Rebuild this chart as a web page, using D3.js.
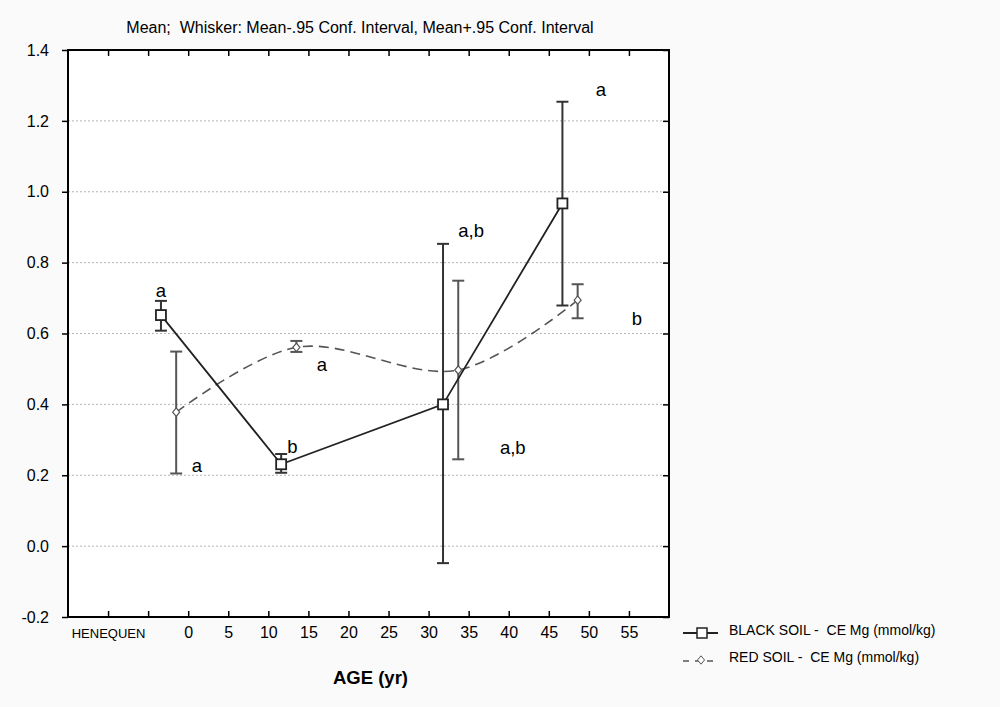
<!DOCTYPE html>
<html>
<head>
<meta charset="utf-8">
<script src="https://cdn.jsdelivr.net/npm/d3@7"></script>
<style>
    body { margin: 0; background: #fafafa; }
    svg { display: block; font-family: "Liberation Sans", Arial, sans-serif; }
    text { white-space: pre; }
    .grid line { stroke: #b4b4b4; stroke-dasharray: 2 2; }
    .axis path { display: none; }
    .axis line { stroke: #000; stroke-width: 1.5; }
</style>
</head>
<body>
<div id="chart"></div>
<script>
// data
const xTicks = [-10, -5, 0, 5, 10, 15, 20, 25, 30, 35, 40, 45, 50, 55];
const xTickLabels = ["HENEQUEN", "", "0", "5", "10", "15", "20", "25", "30", "35", "40", "45", "50", "55"];
const yTicks = [-0.2, 0.0, 0.2, 0.4, 0.6, 0.8, 1.0, 1.2, 1.4];

const blackAge = [-3.4, 11.6, 31.8, 46.7];
const blackMean = [0.652, 0.231, 0.400, 0.967];
const blackLow = [0.608, 0.207, -0.048, 0.679];
const blackHigh = [0.692, 0.260, 0.853, 1.254];

const redAge = [-1.5, 13.5, 33.7, 48.6];
const redMean = [0.378, 0.561, 0.497, 0.694];
const redLow = [0.205, 0.548, 0.245, 0.643];
const redHigh = [0.549, 0.579, 0.749, 0.739];

// significance letters (age, value of text baseline)
const letterText = ["a", "a", "b", "a", "a,b", "a,b", "a", "b"];
const letterAge = [-3.4, 1.1, 13.0, 16.7, 35.3, 40.5, 51.5, 56.0];
const letterValue = [0.703, 0.209, 0.263, 0.494, 0.871, 0.260, 1.270, 0.624];

const title = "Mean;  Whisker: Mean-.95 Conf. Interval, Mean+.95 Conf. Interval";
const xTitle = "AGE (yr)";
const legendLabels = ["BLACK SOIL -  CE Mg (mmol/kg)", "RED SOIL -  CE Mg (mmol/kg)"];

// layout
const width = 1000, height = 707;
const box = {left: 68, right: 669, top: 50, bottom: 617};
const tickLen = 6;
const capHalf = 6;

const svg = d3.select("#chart").append("svg")
    .attr("width", width)
    .attr("height", height);

const x = d3.scaleLinear().domain([-15, 60]).range([box.left, box.right]);
const y = d3.scaleLinear().domain([-0.2, 1.4]).range([box.bottom, box.top]);

svg.append("rect")
    .attr("x", box.left).attr("y", box.top)
    .attr("width", box.right - box.left).attr("height", box.bottom - box.top)
    .attr("fill", "#fff");

svg.append("text")
    .attr("x", 360).attr("y", 33)
    .attr("text-anchor", "middle")
    .attr("font-size", 16)
    .text(title);

// grid
svg.append("g").attr("class", "grid")
    .selectAll("line")
    .data(yTicks.filter(d => d > -0.2 && d < 1.4))
    .join("line")
    .attr("x1", box.left).attr("x2", box.right)
    .attr("y1", d => y(d)).attr("y2", d => y(d));

// axes
svg.append("g").attr("class", "axis")
    .attr("transform", `translate(${box.left},0)`)
    .call(d3.axisLeft(y).tickValues(yTicks).tickSize(tickLen).tickPadding(13).tickFormat(d => d.toFixed(1)))
    .call(g => g.selectAll("text").attr("font-size", 16).attr("fill", "#000").attr("font-family", null));

svg.append("g").attr("class", "axis")
    .attr("transform", `translate(${box.right},0)`)
    .call(d3.axisLeft(y).tickValues(yTicks).tickSize(tickLen).tickFormat(""));

svg.append("g").attr("class", "axis")
    .attr("transform", `translate(0,${box.top})`)
    .call(d3.axisBottom(x).tickValues(xTicks).tickSize(tickLen).tickFormat(""));

svg.append("g").attr("class", "axis")
    .attr("transform", `translate(0,${box.bottom})`)
    .call(d3.axisTop(x).tickValues(xTicks).tickSize(tickLen).tickFormat(""));

svg.append("g").attr("class", "axis")
    .attr("transform", `translate(0,${box.bottom})`)
    .call(d3.axisBottom(x).tickValues(xTicks).tickSize(0).tickPadding(10)
        .tickFormat((d, i) => xTickLabels[i]))
    .call(g => g.selectAll("text")
        .attr("fill", "#000").attr("font-family", null)
        .attr("font-size", (d, i) => i === 0 ? 13 : 16)
        .attr("dy", (d, i) => i === 0 ? "0.85em" : "0.71em"));

svg.append("text")
    .attr("x", x(22.5) + 2).attr("y", 684)
    .attr("text-anchor", "middle")
    .attr("font-size", 18.5).attr("font-weight", "bold")
    .text(xTitle);

// red series (dashed smooth line + whiskers + diamonds)
const redPts = redAge.map((a, i) => [x(a), y(redMean[i])]);
svg.append("path")
    .attr("d", d3.line().curve(d3.curveCatmullRom.alpha(0.5))(redPts))
    .attr("fill", "none").attr("stroke", "#555")
    .attr("stroke-width", 1.6).attr("stroke-dasharray", "10 6");

const whisker = (g, ages, lows, highs, color) => {
    const w = g.append("g").attr("stroke", color).attr("stroke-width", 2);
    w.selectAll(".v").data(ages).join("line")
        .attr("x1", d => x(d)).attr("x2", d => x(d))
        .attr("y1", (d, i) => y(lows[i])).attr("y2", (d, i) => y(highs[i]));
    w.selectAll(".lo").data(ages).join("line")
        .attr("x1", d => x(d) - capHalf).attr("x2", d => x(d) + capHalf)
        .attr("y1", (d, i) => y(lows[i])).attr("y2", (d, i) => y(lows[i]));
    w.selectAll(".hi").data(ages).join("line")
        .attr("x1", d => x(d) - capHalf).attr("x2", d => x(d) + capHalf)
        .attr("y1", (d, i) => y(highs[i])).attr("y2", (d, i) => y(highs[i]));
};

whisker(svg, redAge, redLow, redHigh, "#555");

// small rhombus, a bit taller than wide
const rhombus = {
    draw(ctx) {
        ctx.moveTo(0, -4.2);
        ctx.lineTo(3.5, 0);
        ctx.lineTo(0, 4.2);
        ctx.lineTo(-3.5, 0);
        ctx.closePath();
    }
};
const diamond = d3.symbol().type(rhombus);
svg.append("g").selectAll("path")
    .data(redPts)
    .join("path")
    .attr("transform", d => `translate(${d[0]},${d[1]})`)
    .attr("d", diamond)
    .attr("fill", "#fff").attr("stroke", "#555").attr("stroke-width", 1.2);

// black series
whisker(svg, blackAge, blackLow, blackHigh, "#333");

const blackPts = blackAge.map((a, i) => [x(a), y(blackMean[i])]);
svg.append("path")
    .attr("d", d3.line()(blackPts))
    .attr("fill", "none").attr("stroke", "#222").attr("stroke-width", 1.8);

svg.append("g").selectAll("rect")
    .data(blackPts)
    .join("rect")
    .attr("x", d => d[0] - 5).attr("y", d => d[1] - 5)
    .attr("width", 10).attr("height", 10)
    .attr("fill", "#fff").attr("stroke", "#222").attr("stroke-width", 1.8);

// letters
svg.append("g").selectAll("text")
    .data(letterText)
    .join("text")
    .attr("x", (d, i) => x(letterAge[i]))
    .attr("y", (d, i) => y(letterValue[i]))
    .attr("text-anchor", "middle")
    .attr("font-size", 18.5)
    .text(d => d);

// frame
svg.append("rect")
    .attr("x", box.left).attr("y", box.top)
    .attr("width", box.right - box.left).attr("height", box.bottom - box.top)
    .attr("fill", "none").attr("stroke", "#000").attr("stroke-width", 2);

// legend
const legend = svg.append("g");
legend.append("line")
    .attr("x1", 683).attr("x2", 718).attr("y1", 633).attr("y2", 633)
    .attr("stroke", "#222").attr("stroke-width", 1.8);
legend.append("rect")
    .attr("x", 697).attr("y", 628).attr("width", 10).attr("height", 10)
    .attr("fill", "#fff").attr("stroke", "#222").attr("stroke-width", 1.5);
legend.append("line")
    .attr("x1", 683).attr("x2", 718).attr("y1", 661).attr("y2", 661)
    .attr("stroke", "#555").attr("stroke-width", 1.5).attr("stroke-dasharray", "6 6");
legend.append("path")
    .attr("transform", "translate(701,660)")
    .attr("d", diamond)
    .attr("fill", "#fff").attr("stroke", "#555");
legend.selectAll(".lt")
    .data(legendLabels)
    .join("text")
    .attr("x", 729)
    .attr("y", (d, i) => 635 + i * 27)
    .attr("font-size", 14)
    .text(d => d);
</script>
</body>
</html>
